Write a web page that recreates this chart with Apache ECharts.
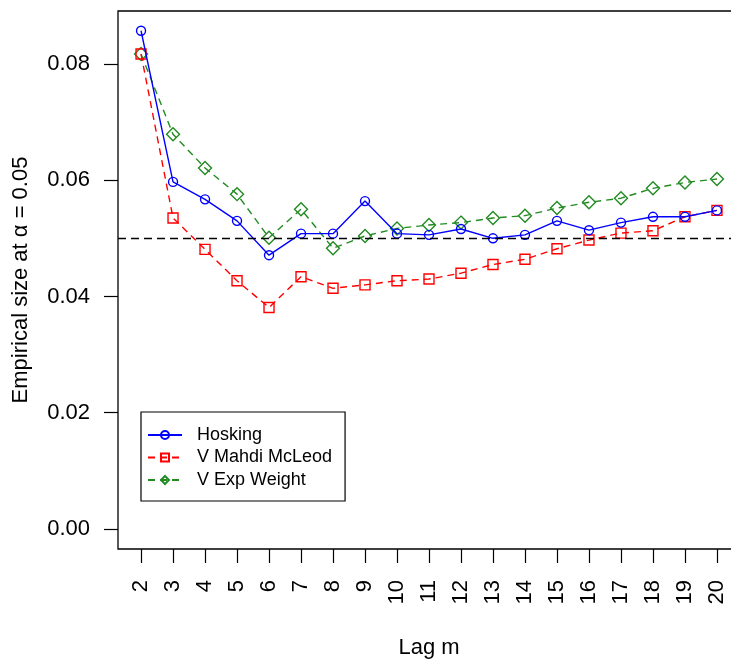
<!DOCTYPE html>
<html>
<head>
<meta charset="utf-8">
<script src="https://cdn.jsdelivr.net/npm/echarts@6/dist/echarts.min.js"></script>
<style>
html,body{margin:0;padding:0;background:#fff;}
#chart{width:731px;height:662px;}
</style>
</head>
<body>
<div id="chart"></div>
<script>
var lags = [2,3,4,5,6,7,8,9,10,11,12,13,14,15,16,17,18,19,20];
var hosking = [0.0857,0.0597,0.0567,0.0530,0.0471,0.0508,0.0508,0.0564,0.0508,0.0506,0.0516,0.0500,0.0506,0.0530,0.0514,0.0527,0.0537,0.0537,0.0548];
var mcleod  = [0.0817,0.0535,0.0481,0.0427,0.0381,0.0434,0.0414,0.0420,0.0427,0.0430,0.0440,0.0455,0.0464,0.0482,0.0497,0.0509,0.0513,0.0537,0.0548];
var expw    = [0.0817,0.0679,0.0621,0.0576,0.0501,0.0550,0.0483,0.0504,0.0517,0.0523,0.0527,0.0535,0.0539,0.0552,0.0562,0.0569,0.0586,0.0596,0.0602];
var yTicks = [0, 0.02, 0.04, 0.06, 0.08];
var refLevel = 0.05;
var seriesNames = ['Hosking', 'V Mahdi McLeod', 'V Exp Weight'];
var xTitle = 'Lag m';
var yTitle = 'Empirical size at \u03b1 = 0.05';

function pairs(ys){ return lags.map(function(x,i){ return [x, ys[i]]; }); }

var FONT = 'Liberation Sans, Arial, sans-serif';
var chart = echarts.init(document.getElementById('chart'), null, {renderer:'canvas'});
chart.setOption({
  animation: false,
  backgroundColor: '#ffffff',
  textStyle: {fontFamily: FONT},
  grid: {left: 118, top: 11, width: 622, height: 538, show: true, borderColor: '#000', borderWidth: 1.3, backgroundColor: 'transparent', outerBoundsMode: 'none', containLabel: false},
  xAxis: {
    type: 'value', min: 1.28, max: 20.72,
    axisLine: {show: false, onZero: false},
    splitLine: {show: false},
    axisTick: {show: true, inside: false, length: 14, lineStyle: {color: '#000', width: 1.2}, customValues: lags},
    axisLabel: {show: true, rotate: 90, margin: 31, fontSize: 22, color: '#000', fontFamily: FONT, customValues: lags, formatter: function(v){ return String(v); }},
    name: xTitle, nameLocation: 'middle', nameGap: 88,
    nameTextStyle: {fontSize: 22, color: '#000', fontFamily: FONT, verticalAlign: 'top'}
  },
  yAxis: {
    type: 'value', min: -0.00344, max: 0.0891,
    axisLine: {show: false, onZero: false},
    splitLine: {show: false},
    axisTick: {show: true, inside: false, length: 14, lineStyle: {color: '#000', width: 1.2}, customValues: yTicks},
    axisLabel: {show: true, margin: 28, fontSize: 22, color: '#000', fontFamily: FONT, customValues: yTicks, formatter: function(v){ return v.toFixed(2); }},
    name: yTitle, nameLocation: 'middle', nameGap: 86,
    nameTextStyle: {fontSize: 22, color: '#000', fontFamily: FONT}
  },
  legend: {
    show: true, orient: 'vertical', left: 141, top: 412,
    data: seriesNames,
    backgroundColor: '#fff', borderColor: '#000', borderWidth: 1.2,
    padding: [14, 13, 12, 6],
    itemWidth: 34, itemHeight: 10, itemGap: 4.5,
    textStyle: {fontSize: 18, color: '#000', fontFamily: FONT, padding: [0, 0, 0, 10]}
  },
  series: [
    {
      name: seriesNames[0], type: 'line', data: pairs(hosking),
      symbol: 'circle', symbolSize: 9, showAllSymbol: true,
      lineStyle: {color: '#0000FF', width: 1.4, type: 'solid'},
      itemStyle: {color: 'rgba(0,0,0,0)', borderColor: '#0000FF', borderWidth: 1.4},
      z: 4,
      markLine: {
        silent: true, symbol: ['none','none'], label: {show: false},
        lineStyle: {color: '#000', type: [8, 5], width: 1.3},
        data: [{yAxis: refLevel}]
      }
    },
    {
      name: seriesNames[1], type: 'line', data: pairs(mcleod),
      symbol: 'rect', symbolSize: 10, showAllSymbol: true,
      lineStyle: {color: '#FF0000', width: 1.4, type: [7, 5]},
      itemStyle: {color: 'rgba(0,0,0,0)', borderColor: '#FF0000', borderWidth: 1.4},
      z: 3
    },
    {
      name: seriesNames[2], type: 'line', data: pairs(expw),
      symbol: 'diamond', symbolSize: 13, showAllSymbol: true,
      lineStyle: {color: '#228B22', width: 1.4, type: [7, 5]},
      itemStyle: {color: 'rgba(0,0,0,0)', borderColor: '#228B22', borderWidth: 1.4},
      z: 2
    }
  ]
});
</script>
</body>
</html>
